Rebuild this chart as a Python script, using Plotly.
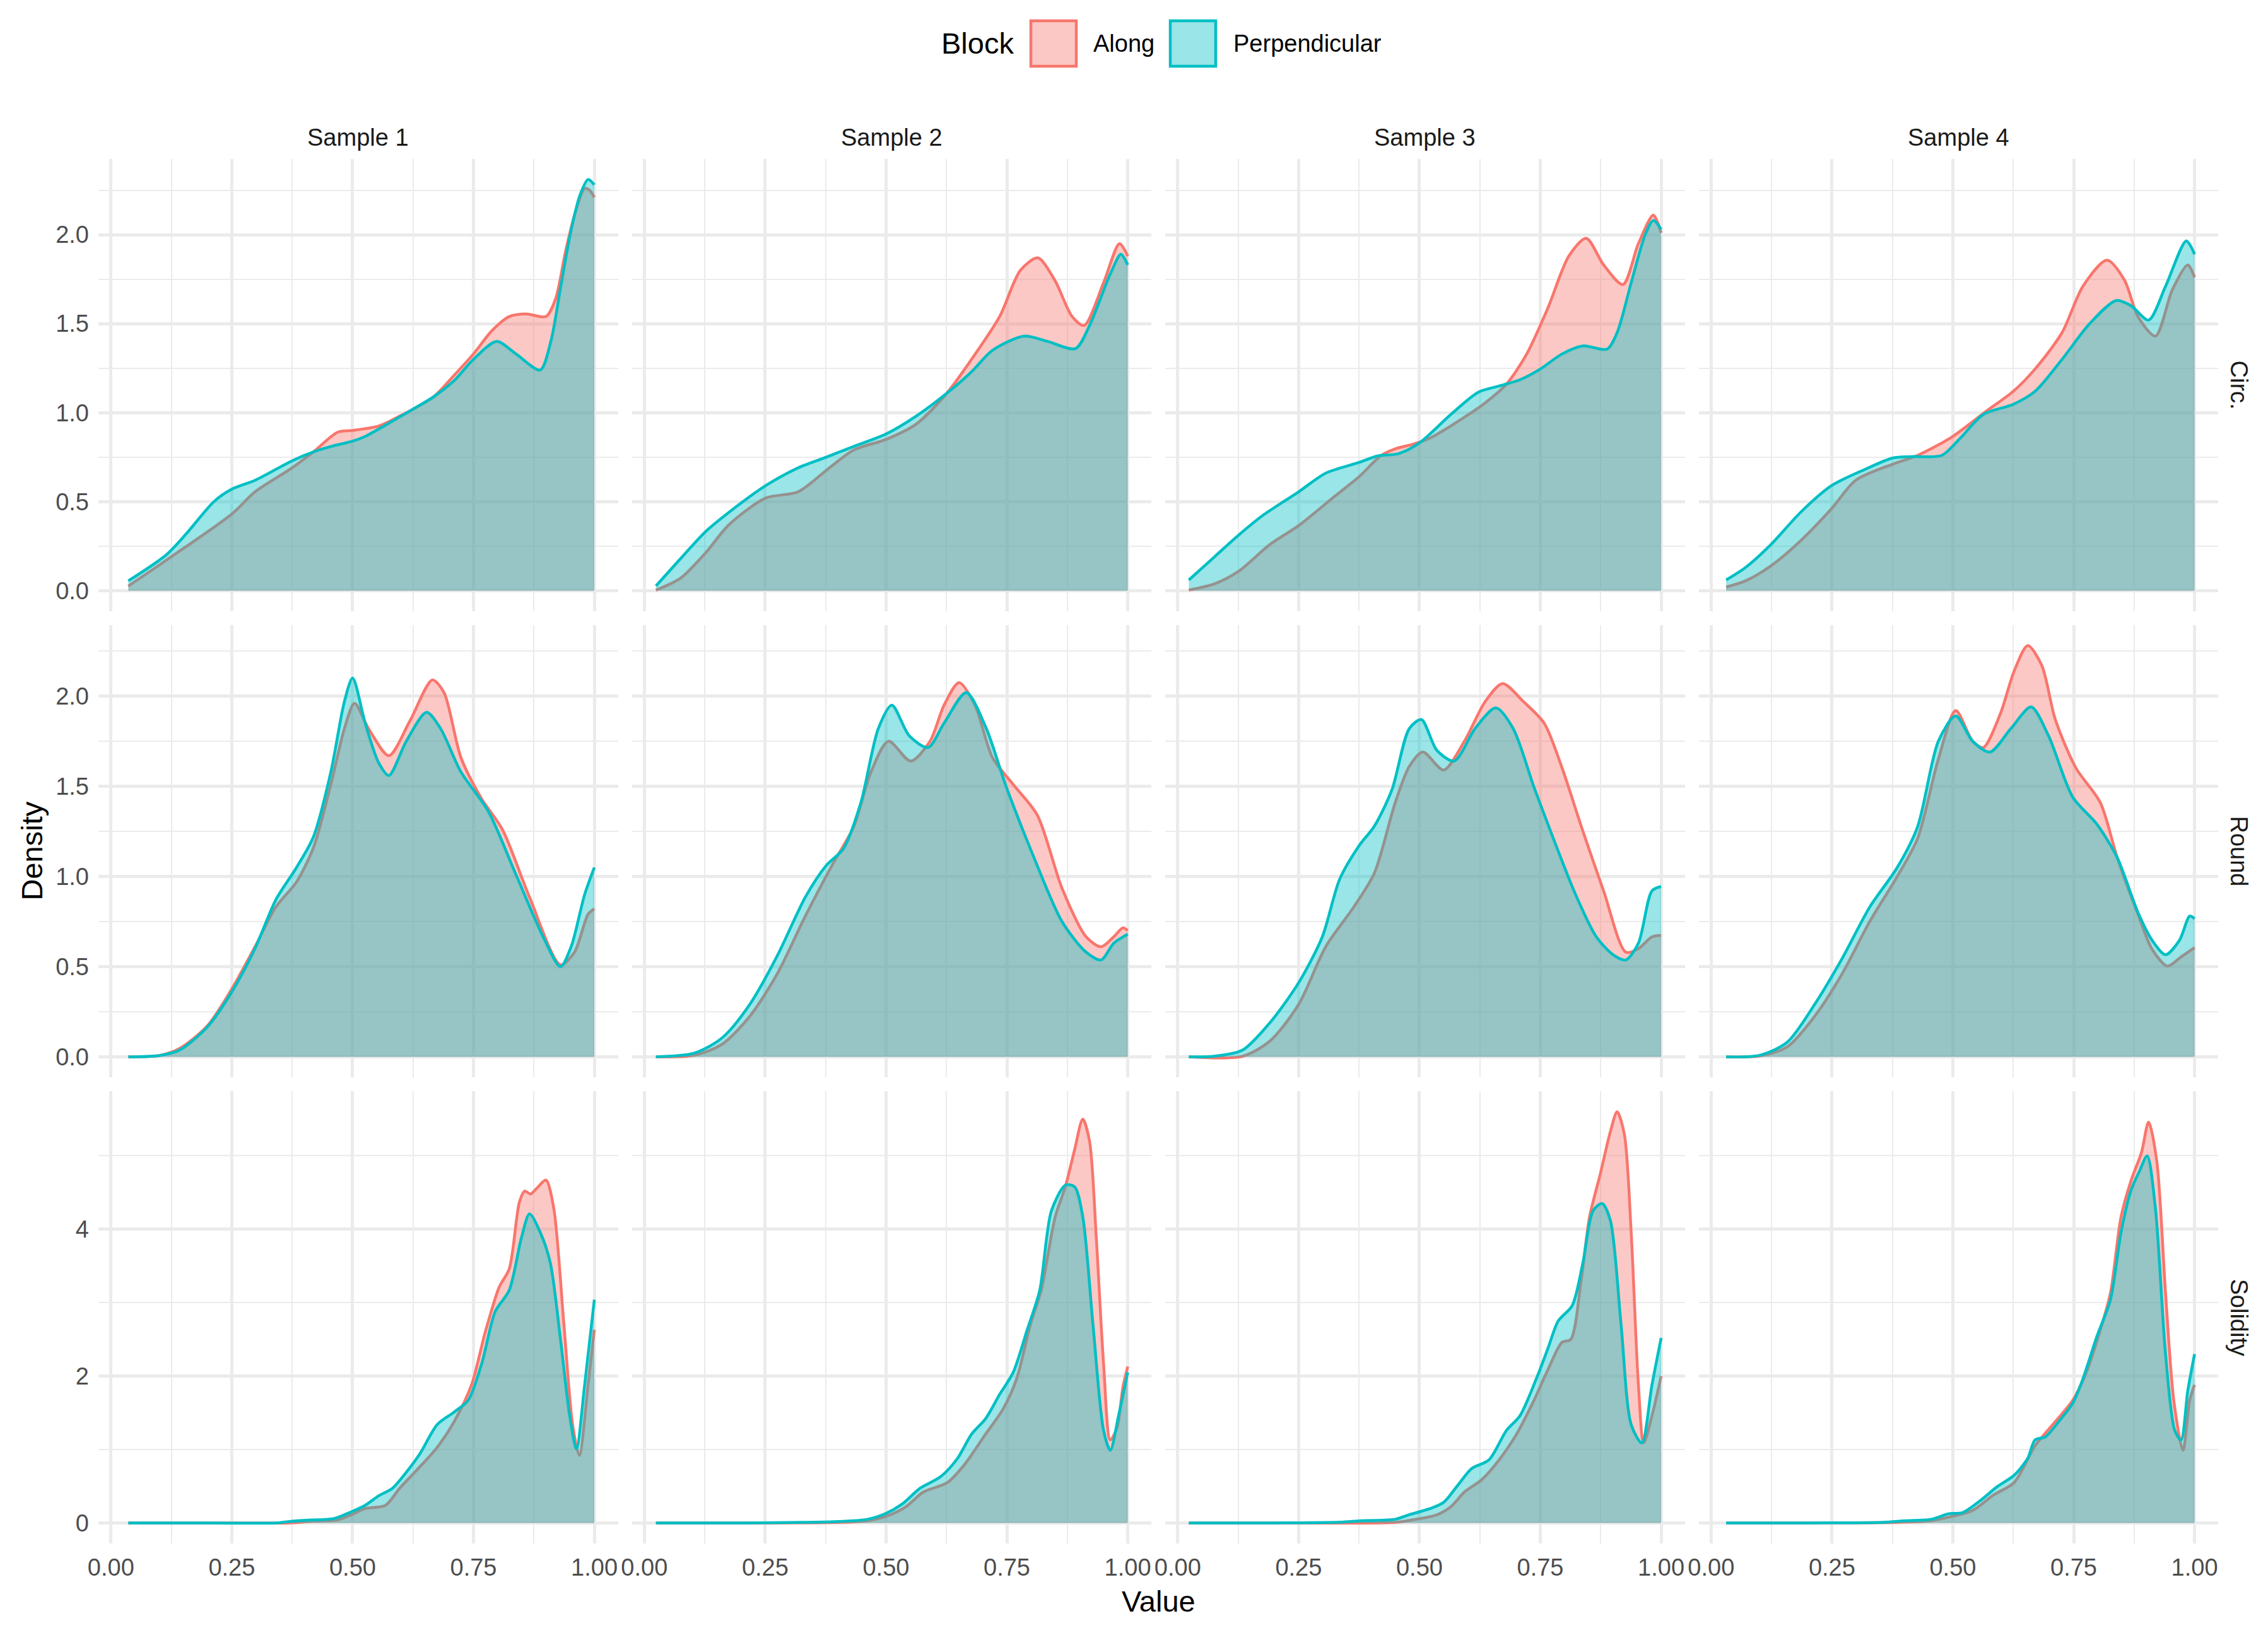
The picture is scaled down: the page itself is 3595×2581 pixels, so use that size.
import plotly.graph_objects as go

# ---------------- data ----------------
SAMPLES = ["Sample 1", "Sample 2", "Sample 3", "Sample 4"]
METRICS = ["Circ.", "Round", "Solidity"]
BLOCKS = ["Along", "Perpendicular"]

X_TICKS = [0, 0.25, 0.5, 0.75, 1.0]
X_TICK_LABELS = ["0.00", "0.25", "0.50", "0.75", "1.00"]
Y_TICKS_CR = [0, 0.5, 1.0, 1.5, 2.0]
Y_TICK_LABELS_CR = ["0.0", "0.5", "1.0", "1.5", "2.0"]
Y_TICKS_SOL = [0, 2, 4]
Y_TICK_LABELS_SOL = ["0", "2", "4"]

# Circ.
CIRC_S1_ALONG_X = [0.036, 0.114, 0.25, 0.298, 0.375, 0.419, 0.469, 0.5, 0.554, 0.597, 0.625, 0.668, 0.71, 0.75, 0.788, 0.824, 0.859, 0.90, 0.92, 0.94, 0.96, 0.98, 0.99, 1.0]
CIRC_S1_ALONG_Y = [0.026, 0.17, 0.43, 0.555, 0.69, 0.78, 0.89, 0.90, 0.925, 0.98, 1.02, 1.09, 1.21, 1.33, 1.46, 1.54, 1.555, 1.54, 1.64, 1.90, 2.12, 2.26, 2.25, 2.21]
CIRC_S1_PERP_X = [0.036, 0.114, 0.156, 0.213, 0.25, 0.298, 0.375, 0.419, 0.455, 0.5, 0.525, 0.568, 0.625, 0.668, 0.71, 0.75, 0.798, 0.838, 0.888, 0.91, 0.93, 0.95, 0.97, 0.987, 1.0]
CIRC_S1_PERP_Y = [0.055, 0.20, 0.32, 0.50, 0.57, 0.62, 0.73, 0.78, 0.81, 0.84, 0.865, 0.93, 1.02, 1.09, 1.18, 1.30, 1.40, 1.33, 1.24, 1.40, 1.70, 2.00, 2.22, 2.31, 2.28]

CIRC_S2_ALONG_X = [0.024, 0.075, 0.126, 0.175, 0.251, 0.318, 0.376, 0.433, 0.5, 0.562, 0.626, 0.677, 0.735, 0.778, 0.814, 0.849, 0.885, 0.91, 0.95, 0.983, 1.0]
CIRC_S2_ALONG_Y = [0.003, 0.07, 0.21, 0.37, 0.52, 0.555, 0.675, 0.79, 0.85, 0.935, 1.11, 1.30, 1.54, 1.80, 1.87, 1.745, 1.54, 1.49, 1.73, 1.95, 1.88]
CIRC_S2_PERP_X = [0.024, 0.075, 0.126, 0.175, 0.251, 0.318, 0.376, 0.433, 0.5, 0.562, 0.626, 0.677, 0.72, 0.785, 0.835, 0.892, 0.921, 0.964, 0.986, 1.0]
CIRC_S2_PERP_Y = [0.026, 0.18, 0.33, 0.44, 0.59, 0.69, 0.75, 0.81, 0.88, 0.98, 1.11, 1.23, 1.35, 1.43, 1.40, 1.36, 1.49, 1.78, 1.89, 1.83]

CIRC_S3_ALONG_X = [0.023, 0.076, 0.125, 0.191, 0.25, 0.32, 0.375, 0.421, 0.45, 0.486, 0.522, 0.579, 0.636, 0.68, 0.722, 0.766, 0.809, 0.845, 0.881, 0.921, 0.953, 0.984, 1.0]
CIRC_S3_ALONG_Y = [0.003, 0.038, 0.107, 0.26, 0.365, 0.52, 0.64, 0.76, 0.797, 0.822, 0.857, 0.95, 1.055, 1.16, 1.33, 1.59, 1.88, 1.98, 1.83, 1.72, 1.95, 2.11, 2.01]
CIRC_S3_PERP_X = [0.023, 0.076, 0.125, 0.177, 0.25, 0.306, 0.375, 0.414, 0.457, 0.5, 0.565, 0.622, 0.665, 0.708, 0.75, 0.795, 0.838, 0.888, 0.909, 0.938, 0.967, 0.984, 1.0]
CIRC_S3_PERP_Y = [0.06, 0.19, 0.31, 0.425, 0.555, 0.66, 0.72, 0.757, 0.77, 0.83, 0.99, 1.115, 1.15, 1.185, 1.245, 1.33, 1.375, 1.357, 1.45, 1.73, 2.0, 2.08, 2.03]

CIRC_S4_ALONG_X = [0.031, 0.071, 0.124, 0.185, 0.249, 0.299, 0.375, 0.427, 0.499, 0.57, 0.625, 0.67, 0.726, 0.769, 0.819, 0.855, 0.883, 0.919, 0.954, 0.986, 1.0]
CIRC_S4_ALONG_Y = [0.02, 0.055, 0.14, 0.28, 0.46, 0.62, 0.71, 0.76, 0.865, 1.01, 1.12, 1.245, 1.45, 1.71, 1.857, 1.745, 1.54, 1.43, 1.69, 1.83, 1.76]
CIRC_S4_PERP_X = [0.031, 0.071, 0.124, 0.185, 0.249, 0.313, 0.375, 0.413, 0.477, 0.513, 0.563, 0.625, 0.67, 0.726, 0.783, 0.838, 0.869, 0.905, 0.94, 0.983, 1.0]
CIRC_S4_PERP_Y = [0.06, 0.13, 0.26, 0.44, 0.59, 0.675, 0.745, 0.753, 0.76, 0.85, 0.99, 1.047, 1.12, 1.30, 1.50, 1.63, 1.60, 1.52, 1.71, 1.965, 1.89]

# Round
ROUND_S1_ALONG_X = [0.036, 0.1, 0.142, 0.199, 0.25, 0.298, 0.341, 0.384, 0.419, 0.455, 0.483, 0.504, 0.533, 0.575, 0.618, 0.665, 0.689, 0.724, 0.767, 0.81, 0.866, 0.93, 0.959, 0.987, 1.0]
ROUND_S1_ALONG_Y = [0.0, 0.007, 0.046, 0.17, 0.376, 0.61, 0.83, 0.97, 1.16, 1.51, 1.82, 1.96, 1.82, 1.67, 1.86, 2.09, 2.02, 1.66, 1.43, 1.26, 0.885, 0.51, 0.58, 0.79, 0.82]
ROUND_S1_PERP_X = [0.036, 0.1, 0.142, 0.199, 0.25, 0.298, 0.341, 0.384, 0.419, 0.455, 0.483, 0.5, 0.526, 0.554, 0.575, 0.611, 0.653, 0.682, 0.724, 0.781, 0.838, 0.895, 0.93, 0.952, 0.98, 1.0]
ROUND_S1_PERP_Y = [0.0, 0.007, 0.037, 0.164, 0.36, 0.60, 0.87, 1.05, 1.22, 1.58, 1.97, 2.10, 1.85, 1.63, 1.56, 1.75, 1.91, 1.82, 1.58, 1.36, 1.01, 0.66, 0.50, 0.61, 0.90, 1.05]

ROUND_S2_ALONG_X = [0.024, 0.103, 0.161, 0.218, 0.275, 0.333, 0.39, 0.433, 0.469, 0.505, 0.551, 0.591, 0.62, 0.651, 0.684, 0.72, 0.763, 0.813, 0.864, 0.914, 0.945, 0.971, 0.99, 1.0]
ROUND_S2_ALONG_Y = [0.0, 0.008, 0.07, 0.224, 0.46, 0.78, 1.07, 1.275, 1.58, 1.75, 1.64, 1.75, 1.95, 2.075, 1.95, 1.66, 1.51, 1.34, 0.935, 0.665, 0.61, 0.665, 0.715, 0.70]
ROUND_S2_PERP_X = [0.024, 0.103, 0.161, 0.218, 0.275, 0.333, 0.376, 0.412, 0.448, 0.484, 0.512, 0.548, 0.587, 0.62, 0.666, 0.706, 0.749, 0.806, 0.864, 0.914, 0.945, 0.971, 1.0]
ROUND_S2_PERP_Y = [0.0, 0.02, 0.105, 0.29, 0.56, 0.885, 1.06, 1.155, 1.41, 1.82, 1.95, 1.78, 1.715, 1.85, 2.02, 1.83, 1.495, 1.105, 0.75, 0.58, 0.537, 0.63, 0.68]

ROUND_S3_ALONG_X = [0.023, 0.134, 0.191, 0.25, 0.306, 0.364, 0.407, 0.45, 0.479, 0.507, 0.55, 0.593, 0.636, 0.672, 0.715, 0.758, 0.794, 0.837, 0.881, 0.927, 0.953, 0.981, 1.0]
ROUND_S3_ALONG_Y = [0.0, 0.003, 0.088, 0.29, 0.61, 0.83, 1.02, 1.41, 1.61, 1.69, 1.59, 1.75, 1.97, 2.07, 1.97, 1.85, 1.61, 1.26, 0.92, 0.58, 0.60, 0.665, 0.673]
ROUND_S3_PERP_X = [0.023, 0.076, 0.134, 0.191, 0.25, 0.299, 0.335, 0.375, 0.407, 0.443, 0.479, 0.504, 0.536, 0.572, 0.615, 0.658, 0.694, 0.737, 0.78, 0.823, 0.866, 0.902, 0.927, 0.953, 0.981, 1.0]
ROUND_S3_PERP_Y = [0.0, 0.003, 0.037, 0.19, 0.41, 0.665, 0.985, 1.17, 1.28, 1.48, 1.82, 1.87, 1.70, 1.64, 1.82, 1.935, 1.82, 1.495, 1.19, 0.90, 0.665, 0.563, 0.537, 0.63, 0.92, 0.944]

ROUND_S4_ALONG_X = [0.031, 0.1, 0.157, 0.214, 0.271, 0.328, 0.385, 0.427, 0.47, 0.506, 0.541, 0.563, 0.598, 0.627, 0.655, 0.684, 0.712, 0.755, 0.805, 0.84, 0.883, 0.912, 0.944, 0.972, 1.0]
ROUND_S4_ALONG_Y = [0.0, 0.005, 0.054, 0.224, 0.46, 0.75, 1.00, 1.21, 1.65, 1.92, 1.75, 1.715, 1.90, 2.14, 2.28, 2.17, 1.87, 1.60, 1.41, 1.105, 0.79, 0.597, 0.503, 0.554, 0.605]
ROUND_S4_PERP_X = [0.031, 0.1, 0.157, 0.214, 0.271, 0.328, 0.385, 0.427, 0.47, 0.506, 0.541, 0.577, 0.62, 0.662, 0.698, 0.748, 0.798, 0.84, 0.883, 0.912, 0.94, 0.969, 0.99, 1.0]
ROUND_S4_PERP_Y = [0.0, 0.008, 0.08, 0.29, 0.545, 0.83, 1.05, 1.275, 1.75, 1.89, 1.75, 1.69, 1.82, 1.94, 1.78, 1.44, 1.29, 1.105, 0.80, 0.647, 0.566, 0.647, 0.78, 0.766]

# Solidity
SOL_S1_ALONG_X = [0.036, 0.2, 0.37, 0.412, 0.469, 0.497, 0.526, 0.568, 0.597, 0.632, 0.675, 0.71, 0.746, 0.774, 0.803, 0.824, 0.845, 0.856, 0.868, 0.884, 0.9, 0.916, 0.937, 0.955, 0.969, 0.987, 1.0]
SOL_S1_ALONG_Y = [0.0, 0.0, 0.0, 0.02, 0.04, 0.11, 0.195, 0.24, 0.47, 0.715, 1.03, 1.38, 1.88, 2.59, 3.21, 3.46, 4.37, 4.52, 4.48, 4.58, 4.67, 4.29, 2.71, 1.34, 0.92, 1.88, 2.63]
SOL_S1_PERP_X = [0.036, 0.2, 0.341, 0.384, 0.412, 0.462, 0.497, 0.526, 0.554, 0.582, 0.611, 0.639, 0.675, 0.71, 0.739, 0.767, 0.795, 0.824, 0.849, 0.866, 0.888, 0.909, 0.93, 0.949, 0.963, 0.98, 1.0]
SOL_S1_PERP_Y = [0.0, 0.0, 0.0, 0.03, 0.04, 0.06, 0.15, 0.24, 0.37, 0.47, 0.69, 0.94, 1.34, 1.51, 1.67, 2.17, 2.88, 3.17, 3.88, 4.21, 3.96, 3.54, 2.50, 1.46, 1.01, 1.88, 3.04]

SOL_S2_ALONG_X = [0.024, 0.2, 0.39, 0.462, 0.5, 0.541, 0.577, 0.627, 0.663, 0.706, 0.742, 0.77, 0.799, 0.821, 0.85, 0.871, 0.89, 0.907, 0.921, 0.935, 0.95, 0.964, 0.978, 0.99, 1.0]
SOL_S2_ALONG_Y = [0.0, 0.0, 0.005, 0.03, 0.09, 0.22, 0.42, 0.55, 0.80, 1.21, 1.55, 1.96, 2.71, 3.17, 4.17, 4.58, 5.08, 5.50, 5.20, 3.88, 2.17, 1.13, 1.30, 1.85, 2.13]
SOL_S2_PERP_X = [0.024, 0.2, 0.39, 0.462, 0.5, 0.534, 0.57, 0.613, 0.648, 0.677, 0.706, 0.735, 0.763, 0.792, 0.818, 0.842, 0.871, 0.89, 0.907, 0.928, 0.95, 0.964, 0.981, 1.0]
SOL_S2_PERP_Y = [0.0, 0.0, 0.017, 0.05, 0.13, 0.26, 0.47, 0.63, 0.88, 1.21, 1.42, 1.75, 2.05, 2.63, 3.17, 4.25, 4.60, 4.58, 4.17, 2.71, 1.26, 0.99, 1.46, 2.05]

SOL_S3_ALONG_X = [0.023, 0.2, 0.45, 0.493, 0.536, 0.565, 0.593, 0.629, 0.665, 0.701, 0.737, 0.766, 0.795, 0.813, 0.835, 0.852, 0.874, 0.895, 0.909, 0.924, 0.938, 0.953, 0.964, 0.981, 1.0]
SOL_S3_ALONG_Y = [0.0, 0.0, 0.008, 0.05, 0.11, 0.22, 0.42, 0.59, 0.86, 1.21, 1.67, 2.09, 2.46, 2.50, 3.33, 4.17, 4.75, 5.33, 5.60, 5.29, 3.96, 1.88, 1.09, 1.46, 2.00]
SOL_S3_PERP_X = [0.023, 0.2, 0.335, 0.378, 0.45, 0.478, 0.522, 0.55, 0.579, 0.608, 0.644, 0.68, 0.708, 0.744, 0.766, 0.787, 0.816, 0.838, 0.859, 0.878, 0.895, 0.917, 0.938, 0.96, 0.981, 1.0]
SOL_S3_PERP_Y = [0.0, 0.0, 0.01, 0.03, 0.05, 0.11, 0.195, 0.28, 0.51, 0.74, 0.86, 1.26, 1.46, 2.00, 2.38, 2.75, 2.96, 3.54, 4.25, 4.35, 4.12, 2.71, 1.34, 1.09, 1.88, 2.52]

SOL_S4_ALONG_X = [0.031, 0.2, 0.385, 0.456, 0.499, 0.541, 0.584, 0.627, 0.67, 0.712, 0.748, 0.776, 0.805, 0.826, 0.848, 0.869, 0.89, 0.905, 0.922, 0.94, 0.957, 0.976, 0.99, 1.0]
SOL_S4_ALONG_Y = [0.0, 0.0, 0.008, 0.03, 0.09, 0.17, 0.38, 0.55, 1.05, 1.38, 1.67, 2.05, 2.63, 3.13, 4.17, 4.67, 5.04, 5.46, 4.92, 3.13, 1.67, 0.99, 1.67, 1.88]
SOL_S4_PERP_X = [0.031, 0.2, 0.356, 0.399, 0.456, 0.491, 0.52, 0.556, 0.591, 0.627, 0.655, 0.67, 0.691, 0.719, 0.748, 0.769, 0.798, 0.826, 0.848, 0.869, 0.886, 0.902, 0.919, 0.94, 0.959, 0.972, 0.986, 1.0]
SOL_S4_PERP_Y = [0.0, 0.0, 0.008, 0.03, 0.05, 0.125, 0.14, 0.30, 0.49, 0.65, 0.88, 1.13, 1.17, 1.38, 1.63, 1.96, 2.54, 3.04, 3.96, 4.54, 4.79, 5.00, 4.29, 2.30, 1.26, 1.13, 1.80, 2.30]

# ---------------- assemble ----------------
CURVES = {
    ("Circ.", "Sample 1"): ((CIRC_S1_ALONG_X, CIRC_S1_ALONG_Y), (CIRC_S1_PERP_X, CIRC_S1_PERP_Y)),
    ("Circ.", "Sample 2"): ((CIRC_S2_ALONG_X, CIRC_S2_ALONG_Y), (CIRC_S2_PERP_X, CIRC_S2_PERP_Y)),
    ("Circ.", "Sample 3"): ((CIRC_S3_ALONG_X, CIRC_S3_ALONG_Y), (CIRC_S3_PERP_X, CIRC_S3_PERP_Y)),
    ("Circ.", "Sample 4"): ((CIRC_S4_ALONG_X, CIRC_S4_ALONG_Y), (CIRC_S4_PERP_X, CIRC_S4_PERP_Y)),
    ("Round", "Sample 1"): ((ROUND_S1_ALONG_X, ROUND_S1_ALONG_Y), (ROUND_S1_PERP_X, ROUND_S1_PERP_Y)),
    ("Round", "Sample 2"): ((ROUND_S2_ALONG_X, ROUND_S2_ALONG_Y), (ROUND_S2_PERP_X, ROUND_S2_PERP_Y)),
    ("Round", "Sample 3"): ((ROUND_S3_ALONG_X, ROUND_S3_ALONG_Y), (ROUND_S3_PERP_X, ROUND_S3_PERP_Y)),
    ("Round", "Sample 4"): ((ROUND_S4_ALONG_X, ROUND_S4_ALONG_Y), (ROUND_S4_PERP_X, ROUND_S4_PERP_Y)),
    ("Solidity", "Sample 1"): ((SOL_S1_ALONG_X, SOL_S1_ALONG_Y), (SOL_S1_PERP_X, SOL_S1_PERP_Y)),
    ("Solidity", "Sample 2"): ((SOL_S2_ALONG_X, SOL_S2_ALONG_Y), (SOL_S2_PERP_X, SOL_S2_PERP_Y)),
    ("Solidity", "Sample 3"): ((SOL_S3_ALONG_X, SOL_S3_ALONG_Y), (SOL_S3_PERP_X, SOL_S3_PERP_Y)),
    ("Solidity", "Sample 4"): ((SOL_S4_ALONG_X, SOL_S4_ALONG_Y), (SOL_S4_PERP_X, SOL_S4_PERP_Y)),
}

LINE_COLORS = {"Along": "#F8766D", "Perpendicular": "#00BFC4"}
FILL_COLORS = {"Along": "rgba(248,118,109,0.4)", "Perpendicular": "rgba(0,191,196,0.4)"}

W, H = 3595, 2581
FONT = "Liberation Sans, Arial, Helvetica, sans-serif"
TICK_SIZE = 38
TITLE_SIZE = 47
GRID = "#EBEBEB"

PANEL_LEFT0, PANEL_W, GAP_X = 156, 823.5, 22
PANEL_TOP0, PANEL_H, GAP_Y = 252, 717, 22

def col_left(c):
    return PANEL_LEFT0 + c * (PANEL_W + GAP_X)

def row_top(r):
    return PANEL_TOP0 + r * (PANEL_H + GAP_Y)

all_x = [v for key in CURVES for pair in CURVES[key] for v in pair[0]]
xmin, xmax = min(all_x), max(all_x)
xpad = 0.05 * (xmax - xmin)
XRANGE = [xmin - xpad, xmax + xpad]

fig = go.Figure()
layout = {}

for r, metric in enumerate(METRICS):
    ys = [v for s in SAMPLES for pair in CURVES[(metric, s)] for v in pair[1]]
    ymax = max(ys)
    yrange = [-0.05 * ymax, 1.05 * ymax]
    if metric == "Solidity":
        yt, ytl, ydt_minor = Y_TICKS_SOL, Y_TICK_LABELS_SOL, 1
    else:
        yt, ytl, ydt_minor = Y_TICKS_CR, Y_TICK_LABELS_CR, 0.25
    for c, sample in enumerate(SAMPLES):
        k = r * 4 + c + 1
        xa = "x" if k == 1 else f"x{k}"
        ya = "y" if k == 1 else f"y{k}"
        for block, (xs, yv) in zip(BLOCKS, CURVES[(metric, sample)]):
            fig.add_trace(go.Scatter(
                x=xs, y=yv, xaxis=xa, yaxis=ya, mode="lines",
                line=dict(color=LINE_COLORS[block], width=4.5, shape="spline", smoothing=0.8),
                fill="tozeroy", fillcolor=FILL_COLORS[block],
                name=block, showlegend=False, hoverinfo="skip"))
        left = col_left(c)
        top = row_top(r)
        layout["xaxis" if k == 1 else f"xaxis{k}"] = dict(
            domain=[left / W, (left + PANEL_W) / W], anchor=ya, range=XRANGE, automargin=False,
            tickvals=X_TICKS, ticktext=X_TICK_LABELS, showticklabels=(r == 2),
            showgrid=True, gridcolor=GRID, gridwidth=4.5, zeroline=False, showline=False,
            ticks="", ticklabelstandoff=12,
            tickfont=dict(family=FONT, size=TICK_SIZE, color="#4D4D4D"),
            minor=dict(dtick=0.125, tick0=0, showgrid=True, gridcolor=GRID, gridwidth=2.3, ticks=""),
        )
        layout["yaxis" if k == 1 else f"yaxis{k}"] = dict(
            domain=[1 - (top + PANEL_H) / H, 1 - top / H], anchor=xa, range=yrange, automargin=False,
            tickvals=yt, ticktext=ytl, showticklabels=(c == 0),
            showgrid=True, gridcolor=GRID, gridwidth=4.5, zeroline=False, showline=False,
            ticks="", ticklabelstandoff=14,
            tickfont=dict(family=FONT, size=TICK_SIZE, color="#4D4D4D"),
            minor=dict(dtick=ydt_minor, tick0=0, showgrid=True, gridcolor=GRID, gridwidth=2.3, ticks=""),
        )

annotations = []
# column strips
for c, sample in enumerate(SAMPLES):
    annotations.append(dict(text=sample, x=(col_left(c) + PANEL_W / 2) / W, y=1 - 218 / H,
                            xref="paper", yref="paper", showarrow=False, xanchor="center", yanchor="middle",
                            font=dict(family=FONT, size=TICK_SIZE, color="#1A1A1A")))
# row strips
for r, metric in enumerate(METRICS):
    annotations.append(dict(text=metric, x=3549 / W, y=1 - (row_top(r) + PANEL_H / 2) / H,
                            xref="paper", yref="paper", showarrow=False, xanchor="center", yanchor="middle",
                            textangle=90, font=dict(family=FONT, size=TICK_SIZE, color="#1A1A1A")))
# axis titles
annotations.append(dict(text="Density", x=50 / W, y=1 - (PANEL_TOP0 + (3 * PANEL_H + 2 * GAP_Y) / 2) / H,
                        xref="paper", yref="paper", showarrow=False, xanchor="center", yanchor="middle",
                        textangle=-90, font=dict(family=FONT, size=TITLE_SIZE, color="black")))
annotations.append(dict(text="Value", x=(PANEL_LEFT0 + (4 * PANEL_W + 3 * GAP_X) / 2) / W, y=1 - 2538 / H,
                        xref="paper", yref="paper", showarrow=False, xanchor="center", yanchor="middle",
                        font=dict(family=FONT, size=TITLE_SIZE, color="black")))

# legend (drawn manually to match key size)
LEG_Y = 69
annotations.append(dict(text="Block", x=1490 / W, y=1 - LEG_Y / H, xref="paper", yref="paper",
                        showarrow=False, xanchor="left", yanchor="middle",
                        font=dict(family=FONT, size=TITLE_SIZE, color="black")))
shapes = []
key_lefts = {"Along": 1634, "Perpendicular": 1855}
label_lefts = {"Along": 1731, "Perpendicular": 1953}
for block in BLOCKS:
    kl = key_lefts[block]
    shapes.append(dict(type="rect", xref="paper", yref="paper",
                       x0=kl / W, x1=(kl + 72) / W, y0=1 - 105 / H, y1=1 - 33 / H,
                       fillcolor=FILL_COLORS[block], line=dict(color=LINE_COLORS[block], width=4.5)))
    annotations.append(dict(text=block, x=label_lefts[block] / W, y=1 - LEG_Y / H, xref="paper", yref="paper",
                            showarrow=False, xanchor="left", yanchor="middle",
                            font=dict(family=FONT, size=TICK_SIZE, color="black")))

fig.update_layout(
    width=W, height=H, margin=dict(l=0, r=0, t=0, b=0, pad=0, autoexpand=False),
    paper_bgcolor="white", plot_bgcolor="white",
    showlegend=False, annotations=annotations, shapes=shapes,
    font=dict(family=FONT, size=TICK_SIZE),
    **layout,
)

fig.write_html("out.html", config={"displayModeBar": False},
               post_script="document.body.style.margin='0px';document.body.style.padding='0px';")
